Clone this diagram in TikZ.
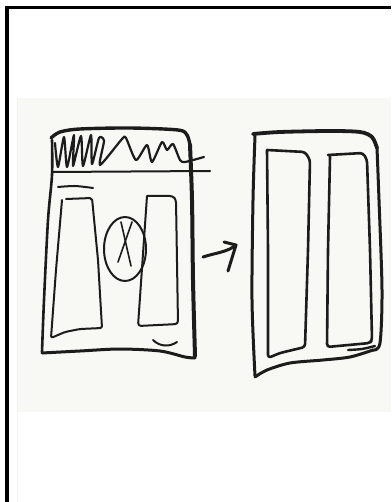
\documentclass[tikz,border=0pt]{standalone}
\usepackage{tikz}
\definecolor{band}{HTML}{F8F8F4}
\definecolor{ink}{HTML}{1C1C1C}
\tikzset{
  pen/.style={draw=ink, line width=2pt, line cap=round, line join=round},
  boldpen/.style={pen, line width=3.4pt},
  heavypen/.style={pen, line width=4pt},
}
\begin{document}
\begin{tikzpicture}[x=1pt,y=-1pt]
\useasboundingbox (0,0) rectangle (391,502);
\fill[white] (0,0) rectangle (391,502);
% light band
\fill[band] (17,98) rectangle (391,412);
\draw[black!5, line width=0.8pt] (17,98) -- (17,502);
% frame
\draw[black, line width=3.6pt] (7,502) -- (7,7.5) -- (391,7.5);

% ---------- left phone ----------
\draw[boldpen] plot[smooth] coordinates {(51,138) (60,132) (80,129) (130,128) (178,130) (187,135) (190,145)};
\draw[heavypen] plot[smooth] coordinates {(190,145) (192,200) (193,280) (195,356)};
\draw[boldpen, line width=3pt] plot[smooth] coordinates {(195,358) (185,357) (160,351) (120,349) (80,351) (42,353)};
\draw[pen, line width=2.6pt] plot[smooth] coordinates {(42,352) (44,300) (48,220) (52,175) (52,140)};
% header line
\draw[pen] (52,172) -- (210,171);
% scribble
\draw[pen, line width=2.2pt] plot[smooth, tension=0.4] coordinates {
 (55,143) (58,167) (64,137) (67,167) (74,135) (73,166) (81,136) (83,166)
 (91,135) (92,164) (99,138) (104,141) (100,165) (122,139) (126,138)
 (136,160) (147,145) (152,162) (162,142) (167,150) (173,144) (180,160) (185,162) (204,157)};
% short line below header
\draw[pen] plot[smooth] coordinates {(58,187) (75,186) (93,188)};
% left inner panel
\draw[pen, rounded corners=2pt] (66,199) -- (92,198) -- (98,260) -- (102,328)
  -- (80,329) -- (65,332) -- (51,338) -- (56,270) -- (62,200);
% ellipse with cross
\draw[pen] (125,249) ellipse[x radius=21, y radius=32];
\draw[pen, line width=1.6pt] (121,222) -- (131,266);
\draw[pen, line width=1.6pt] (132,222) -- (118,262);
% right inner panel
\draw[pen, rounded corners=3pt] (147,196) -- (173,196) -- (176,200) -- (178,324)
  -- (138,326) -- (147,196);
% small curve
\draw[pen] (153,340) .. controls (160,347) and (170,347) .. (177,342);

% ---------- arrow ----------
\coordinate (arrowstart) at (203,257);
\coordinate (arrowtip) at (236,245);
\draw[boldpen, line width=3pt] (arrowstart) .. controls (215,253) and (228,252) .. (arrowtip);
\draw[boldpen, line width=3pt] (224,242) -- (arrowtip) -- (228,271);

% ---------- right phone ----------
\draw[boldpen, line width=3.8pt] plot[smooth] coordinates {(253,134) (280,132) (330,131) (360,132) (372,137) (377,148)};
\draw[boldpen, line width=3pt] plot[smooth] coordinates {(377,148) (379,200) (382,290) (380,343) (373,350)};
\draw[boldpen, line width=3pt] plot[smooth] coordinates {(373,350) (350,357) (323,360) (290,363) (267,370) (255,377)};
\draw[boldpen, line width=3pt] plot[smooth] coordinates {(255,376) (252,300) (253,200) (255,136)};
% left column
\draw[pen, line width=2.6pt, rounded corners=3pt] (267,150) -- (305,152) -- (310,160)
  -- (308,250) -- (305,347) -- (280,353) -- (268,358) -- (268,250) -- (267,150);
% right column
\draw[pen, line width=2.6pt, rounded corners=3pt] (328,155) -- (363,153) -- (367,160)
  -- (370,250) -- (372,340) -- (370,343) -- (327,347) -- (328,250) -- (330,157);
\draw[pen, line width=2.4pt] plot[smooth] coordinates {(348,350) (362,349) (375,346)};
\end{tikzpicture}
\end{document}
